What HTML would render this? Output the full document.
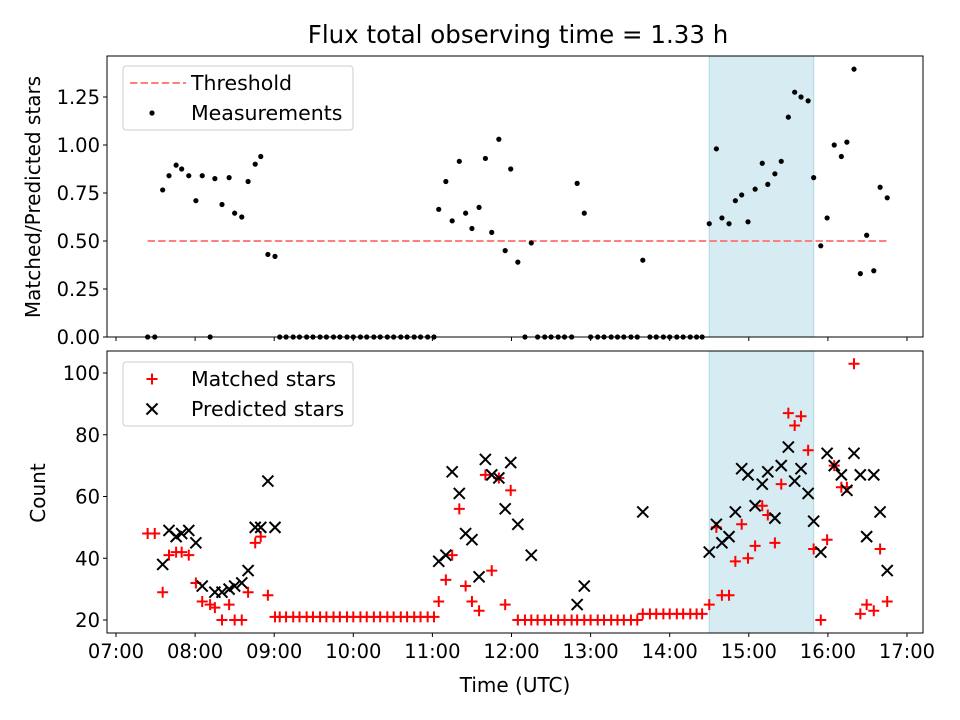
<!DOCTYPE html>
<html><head><meta charset="utf-8"><style>
body{margin:0;background:#fff}
svg{display:block;font-family:"DejaVu Sans","Liberation Sans",sans-serif}
</style></head><body>
<svg id="fig" width="960" height="720" viewBox="0 0 960 720">
<rect width="960" height="720" fill="#fff"/>
<text x="518" y="43" font-size="24.5" text-anchor="middle">Flux total observing time = 1.33 h</text>
<g id="topPanel"></g>
<g id="botPanel"></g>
<text transform="translate(40,197) rotate(-90)" font-size="20" text-anchor="middle">Matched/Predicted stars</text>
<text transform="translate(45,493) rotate(-90)" font-size="20" text-anchor="middle">Count</text>
<text x="515" y="692" font-size="20" text-anchor="middle">Time (UTC)</text>
</svg>
<script>
const times=[7.40,7.49,7.59,7.67,7.76,7.83,7.92,8.01,8.09,8.19,8.25,8.34,8.43,8.50,8.59,8.67,8.76,8.83,8.92,9.01,
9.07,9.15,9.24,9.32,9.41,9.49,9.58,9.66,9.75,9.83,9.92,10.00,10.09,10.17,10.26,10.34,10.43,10.51,10.60,10.68,10.77,10.85,10.94,11.02,
11.08,11.17,11.25,11.34,11.42,11.50,11.59,11.67,11.75,11.84,11.92,11.99,12.08,12.17,12.25,
12.33,12.42,12.50,12.59,12.67,12.76,12.83,12.92,
13.00,13.09,13.17,13.26,13.34,13.42,13.51,13.59,13.66,
13.75,13.83,13.92,14.00,14.09,14.17,14.26,14.34,14.41,
14.50,14.59,14.66,14.75,14.83,14.91,14.99,15.08,15.17,15.24,15.33,15.41,15.50,15.58,15.66,15.75,15.82,15.91,15.99,16.08,16.17,16.24,16.33,16.41,16.49,16.58,16.66,16.75];
const ratio=[0,0,0.766,0.84,0.895,0.875,0.84,0.71,0.84,0,0.825,0.69,0.83,0.645,0.625,0.81,0.90,0.94,0.43,0.42,
0,0,0,0,0,0,0,0,0,0,0,0,0,0,0,0,0,0,0,0,0,0,0,0,
0.665,0.81,0.605,0.915,0.645,0.565,0.675,0.93,0.545,1.03,0.45,0.875,0.39,0,0.49,
0,0,0,0,0,0,0.80,0.645,
0,0,0,0,0,0,0,0,0.40,
0,0,0,0,0,0,0,0,0,
0.59,0.98,0.62,0.59,0.71,0.74,0.60,0.77,0.905,0.795,0.85,0.915,1.145,1.275,1.25,1.23,0.83,0.475,0.62,1.0,0.94,1.015,1.395,0.33,0.53,0.345,0.78,0.725];
const matched=[48,48,29,41,42,42,41,32,26,25,24,20,25,20,20,29,45,47,28,21,
21,21,21,21,21,21,21,21,21,21,21,21,21,21,21,21,21,21,21,21,21,21,21,21,
26,33,41,56,31,26,23,67,36,66,25,62,20,20,20,
20,20,20,20,20,20,20,20,
20,20,20,20,20,20,20,20,22,
22,22,22,22,22,22,22,22,22,
25,50,28,28,39,51,40,44,57,54,45,64,87,83,86,75,43,20,46,70,63,63,103,22,25,23,43,26];
const predicted=[null,null,38,49,47,48,49,45,31,null,29,29,30,31,32,36,50,50,65,50,
null,null,null,null,null,null,null,null,null,null,null,null,null,null,null,null,null,null,null,null,null,null,null,null,
39,41,68,61,48,46,34,72,67,66,56,71,51,null,41,
null,null,null,null,null,null,25,31,
null,null,null,null,null,null,null,null,55,
null,null,null,null,null,null,null,null,null,
42,51,45,47,55,69,67,57,64,68,53,70,76,65,69,61,52,42,74,70,67,62,74,67,47,67,55,36];
const xTicks=[7,8,9,10,11,12,13,14,15,16,17];
const topTicks=[0,0.25,0.5,0.75,1.0,1.25];
const botTicks=[20,40,60,80,100];
const threshold=0.5;
const spanStart=14.5, spanEnd=15.82;

const NS="http://www.w3.org/2000/svg";
const L=107,R=923;
const X=h=>116+(h-7)*79.1;
const Yt=v=>337-v*192;
const Yb=v=>620-(v-20)*3.0875;
function mk(tag,attrs,parent){const e=document.createElementNS(NS,tag);for(const k in attrs)e.setAttribute(k,attrs[k]);parent.appendChild(e);return e;}
const topG=document.getElementById('topPanel'),botG=document.getElementById('botPanel');

function panel(g,y0,y1,Y,ticks,fmt,showX){
  const s=mk('rect',{x:X(spanStart),y:y0,width:X(spanEnd)-X(spanStart),height:y1-y0,fill:'#add8e6','fill-opacity':0.5,stroke:'#add8e6','stroke-width':1},g);
  
  
  xTicks.forEach(h=>{
    const t=mk('line',{x1:X(h),x2:X(h),y1:y1,y2:y1+4,stroke:'#000','stroke-width':1},g);
    
    
    if(showX){
      const lb=mk('text',{x:X(h),y:y1+25,'font-size':19.5,'text-anchor':'middle'},g);
      lb.textContent=String(h).padStart(2,'0')+':00';
      
      
    }
  });
  ticks.forEach(v=>{
    const t=mk('line',{x1:L-4,x2:L,y1:Y(v),y2:Y(v),stroke:'#000','stroke-width':1},g);
    
    
    const lb=mk('text',{x:L-7,y:Y(v)+7,'font-size':19.5,'text-anchor':'end'},g);
    lb.textContent=fmt(v);
    
    
  });
}
panel(topG,56,337,Yt,topTicks,v=>v.toFixed(2),false);
panel(botG,351,633,Yb,botTicks,v=>String(v),true);

const th=mk('line',{x1:X(times[0]),x2:X(times[times.length-1]),y1:Yt(threshold),y2:Yt(threshold),stroke:'#ff7f7f','stroke-width':2,'stroke-dasharray':'7.4,3.2'},topG);


times.forEach((h,i)=>{
  const c=mk('circle',{cx:X(h),cy:Yt(ratio[i]),r:2.6,fill:'#000'},topG);
  
  
});
function plus(g,x,y,col,sz){mk('path',{d:`M${x-sz},${y}H${x+sz}M${x},${y-sz}V${y+sz}`,stroke:col,'stroke-width':2,fill:'none'},g);}
function cross(g,x,y,col,sz){mk('path',{d:`M${x-sz},${y-sz}L${x+sz},${y+sz}M${x-sz},${y+sz}L${x+sz},${y-sz}`,stroke:col,'stroke-width':2,fill:'none'},g);}
times.forEach((h,i)=>{
  const g=mk('g',{},botG);
  
  
  plus(g,X(h),Yb(matched[i]),'#ff0000',5.5);
});
times.forEach((h,i)=>{
  if(predicted[i]==null)return;
  const g=mk('g',{},botG);
  
  
  cross(g,X(h),Yb(predicted[i]),'#000',5.5);
});
[[56,337,topG],[351,633,botG]].forEach(([a,b,g])=>{
  const f=mk('rect',{x:L,y:a,width:R-L,height:b-a,fill:'none',stroke:'#000','stroke-width':1},g);
  
  
});
function legend(g,y,items){
  const box=mk('rect',{x:123,y:y,width:230,height:64,rx:3,fill:'#fff','fill-opacity':0.8,stroke:'#ccc','stroke-width':1},g);
  
  
  items.forEach((it,k)=>{
    const cy=y+17+k*30;
    const e=mk('g',{},g);
    
    
    it.draw(e,152,cy);
    const t=mk('text',{x:191,y:cy+7,'font-size':20.5},e);
    t.textContent=it.label;
  });
}
legend(topG,66,[
 {label:'Threshold',draw:(e,x,y)=>mk('line',{x1:130,x2:186,y1:y,y2:y,stroke:'#ff7f7f','stroke-width':2,'stroke-dasharray':'7.4,3.2'},e)},
 {label:'Measurements',draw:(e,x,y)=>mk('circle',{cx:x,cy:y,r:2.6,fill:'#000'},e)}
]);
legend(botG,362,[
 {label:'Matched stars',draw:(e,x,y)=>plus(e,x,y,'#ff0000',5.5)},
 {label:'Predicted stars',draw:(e,x,y)=>cross(e,x,y,'#000',5.5)}
]);
</script>
</body></html>
